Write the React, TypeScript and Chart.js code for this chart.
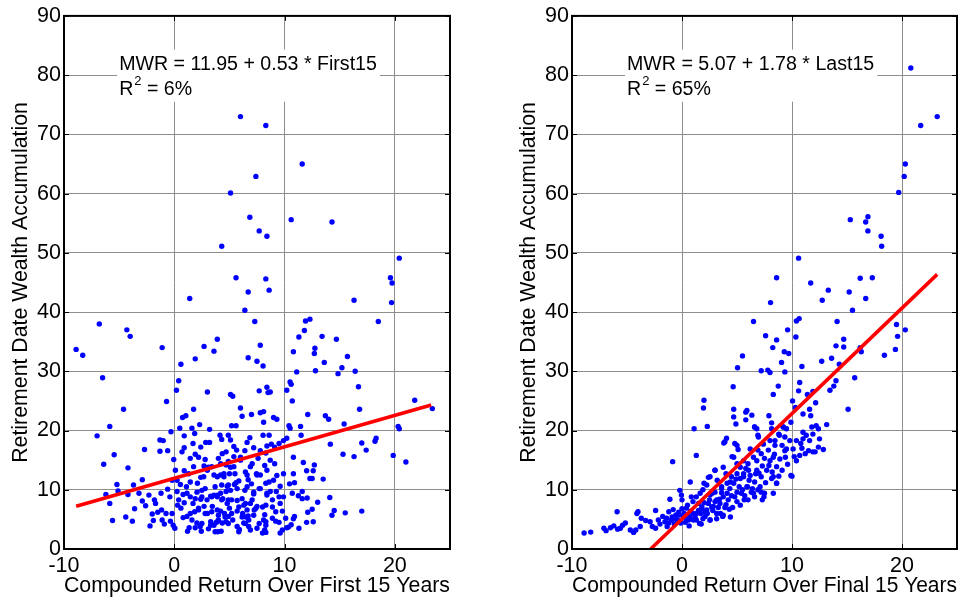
import React, { useEffect, useRef } from "react";
import { Chart, registerables } from "chart.js";

Chart.register(...registerables);

const FONT = '"Liberation Sans", Arial, sans-serif';

const xTicks = [-10, 0, 10, 20];
const yTicks = [0, 10, 20, 30, 40, 50, 60, 70, 80, 90];

const firstTitle = "Compounded Return Over First 15 Years";
const lastTitle = "Compounded Return Over Final 15 Years";
const yTitle = "Retirement Date Wealth Accumulation";

const firstEquation = "MWR = 11.95 + 0.53 * First15";
const lastEquation = "MWR = 5.07 + 1.78 * Last15";
const firstR2 = "6%";
const lastR2 = "65%";

const firstFit = [11.95, 0.53];
const lastFit = [5.07, 1.78];
const firstFitRange = [-8.9, 23.3];
const lastFitRange = [-2.85, 23.2];

const firstPoints: [number, number][] = [
  [6.0, 73.0], [8.3, 71.5], [11.6, 65.0], [7.4, 62.9], [5.1, 60.1], [6.85, 56.0], [10.6, 55.6], [14.3, 55.2],
  [7.7, 53.7], [8.4, 52.8], [4.3, 51.1], [20.4, 49.1], [5.6, 45.8], [19.6, 45.8], [8.3, 45.6], [19.75, 44.9],
  [6.7, 43.4], [8.6, 43.7], [1.4, 42.3], [16.3, 42.0], [19.7, 41.6],
  [-8.9, 33.7], [-8.3, 32.7], [-6.8, 38.0], [-4.3, 37.0], [-4.0, 35.9], [-6.5, 28.9], [-1.1, 34.0], [-0.7, 24.9],
  [-7.0, 19.1], [-5.85, 20.7], [-6.4, 14.3], [-5.45, 15.9], [-4.6, 23.6], [-4.2, 13.7], [-2.7, 16.8], [-6.2, 9.2],
  [-5.85, 7.7], [-5.6, 4.8], [-5.2, 10.9], [-5.1, 9.8], [-4.4, 5.4], [-4.2, 9.2], [-3.8, 4.7], [-3.7, 10.8],
  [-3.6, 6.8], [-3.2, 9.4], [-2.9, 11.7], [-2.9, 8.1], [-2.2, 3.9], [-2.3, 9.1], [-2.0, 5.9], [-1.8, 8.3],
  [-1.9, 4.8], [-1.7, 7.7], [-1.3, 16.5], [-1.3, 18.4], [-1.0, 18.3], [-1.2, 9.4], [-1.15, 6.6], [-1.1, 4.9],
  [-0.9, 4.2], [-0.75, 6.0], [-0.6, 10.1], [-0.6, 16.6], [-0.35, 4.7], [-0.3, 19.8], [-0.2, 6.0], [-0.05, 15.1],
  [-0.1, 4.0], [0.05, 3.5], [0.2, 26.8], [0.4, 28.4], [0.6, 31.2], [0.5, 20.4], [0.7, 16.4], [0.75, 22.2],
  [1.05, 22.5], [0.9, 17.1], [0.9, 19.1], [0.9, 13.2], [1.9, 32.1], [1.75, 23.6], [1.6, 20.4], [1.7, 17.8],
  [1.85, 19.5], [2.3, 21.0], [2.7, 34.2], [3.0, 26.5], [3.6, 33.4], [3.9, 35.4], [3.2, 20.2], [2.85, 18.0],
  [3.2, 18.0], [4.15, 19.2], [4.3, 18.5], [4.9, 19.2], [5.1, 26.1], [5.3, 25.8], [6.0, 23.8], [6.15, 22.4],
  [6.4, 40.3], [6.7, 32.3], [7.3, 38.4], [7.5, 31.7], [7.8, 34.4], [8.05, 30.9], [7.7, 26.7], [7.0, 22.7],
  [7.8, 23.0], [8.1, 23.2], [8.4, 27.3], [8.7, 26.5], [8.5, 26.4], [9.0, 22.2], [9.3, 21.9], [10.2, 26.8],
  [10.5, 28.2], [10.6, 27.8], [10.7, 25.0], [10.8, 33.3], [11.1, 29.9], [11.3, 35.8], [11.8, 36.9], [11.9, 38.5],
  [12.3, 38.8], [12.7, 33.0], [12.75, 33.9], [12.8, 30.1], [13.4, 35.9], [13.6, 31.5], [13.7, 22.5], [14.0, 21.9],
  [14.15, 17.7], [14.7, 35.4], [14.85, 29.6], [15.2, 30.6], [15.7, 32.5], [15.4, 21.1], [15.3, 16.0], [16.4, 30.0],
  [16.3, 15.6], [16.7, 27.4], [16.8, 23.6], [17.0, 17.9], [17.4, 16.7], [18.2, 18.2], [18.3, 18.7], [18.5, 38.4],
  [19.85, 15.8], [20.3, 20.7], [20.4, 20.3], [21.0, 14.7], [21.8, 25.1], [23.4, 23.7],
  [11.45, 20.7], [11.5, 19.2], [12.1, 22.7], [10.4, 20.8], [10.5, 20.4], [11.7, 14.6], [12.0, 13.2], [12.7, 14.2],
  [12.6, 13.2], [12.3, 11.9], [12.5, 11.9], [13.5, 11.8], [10.8, 15.5], [10.8, 12.7], [10.9, 11.2], [10.45, 11.0],
  [9.9, 12.7], [10.7, 9.4], [11.6, 9.7], [11.25, 9.0], [11.6, 8.5], [12.05, 8.6], [13.0, 7.9], [14.1, 8.7],
  [14.5, 6.5], [14.3, 5.7], [15.5, 6.1], [17.0, 6.4], [12.5, 6.7], [12.1, 6.2], [12.6, 4.6], [12.0, 4.5],
  [10.9, 5.5], [10.8, 5.1], [10.6, 4.1], [10.2, 3.6], [10.35, 3.7], [11.3, 3.5], [10.1, 5.2], [9.6, 2.7],
  [9.5, 4.5], [9.2, 4.7], [9.8, 6.4], [9.9, 8.8], [9.5, 8.8], [9.6, 7.7], [9.25, 9.7], [8.9, 8.3],
  [9.0, 11.6], [9.3, 12.4], [9.1, 14.4], [8.7, 15.0], [8.2, 14.1], [8.3, 11.1], [8.6, 11.3], [8.7, 9.7],
  [8.4, 9.4], [8.3, 7.4], [8.2, 5.8], [8.3, 4.6], [8.2, 3.2], [8.3, 2.8], [8.0, 2.7], [7.5, 7.2],
  [7.25, 6.6], [7.2, 9.3], [7.7, 10.2], [7.8, 12.5], [7.45, 12.7], [7.6, 15.3], [7.8, 16.6], [8.3, 16.2],
  [8.4, 17.4], [8.8, 17.7], [9.1, 17.2], [9.5, 17.8], [9.9, 18.3], [10.2, 18.7], [8.6, 19.2], [8.05, 19.2],
  [8.1, 21.4], [6.9, 13.9], [6.6, 12.5], [6.7, 11.7], [6.4, 9.9], [6.15, 8.5], [6.9, 7.7], [6.6, 6.6],
  [6.7, 5.6], [6.5, 5.4], [6.3, 4.4], [6.9, 3.2], [5.9, 3.3], [6.2, 6.0], [5.7, 6.4], [5.7, 8.2],
  [5.45, 10.9], [5.6, 11.2], [5.85, 11.5], [5.4, 13.9], [5.4, 15.6], [6.0, 15.5], [6.4, 16.6], [6.6, 18.0],
  [6.85, 18.8], [7.2, 17.1], [5.65, 16.7], [5.4, 17.3], [5.1, 18.4], [5.6, 20.8], [5.2, 20.8], [4.7, 16.4],
  [4.35, 16.1], [4.0, 15.3], [4.7, 14.2], [4.9, 14.8], [5.0, 12.7], [4.5, 12.7], [4.2, 12.5], [3.9, 12.2],
  [4.3, 10.8], [4.8, 10.6], [5.1, 9.9], [4.7, 9.7], [4.2, 9.4], [4.9, 8.3], [4.4, 8.5], [3.9, 8.8],
  [3.6, 9.1], [3.3, 8.9], [3.45, 7.2], [3.9, 6.6], [4.2, 6.4], [4.55, 6.0], [4.9, 5.5], [4.7, 4.6],
  [4.35, 4.4], [4.0, 4.9], [3.8, 4.5], [3.6, 4.0], [3.95, 2.9], [4.25, 3.0], [3.3, 4.6], [3.0, 6.0],
  [2.7, 7.2], [2.4, 8.4], [2.5, 9.9], [2.1, 11.1], [2.4, 12.1], [3.0, 13.3], [3.4, 13.9], [2.7, 14.0],
  [2.8, 15.1], [2.2, 15.5], [2.4, 17.2], [1.9, 16.0], [1.45, 15.3], [1.75, 13.9], [1.3, 12.7], [1.45, 11.3],
  [1.1, 10.5], [1.15, 9.4], [1.45, 8.8], [1.9, 8.5], [1.7, 7.7], [2.2, 6.9], [1.85, 6.3], [1.45, 6.0],
  [1.15, 5.5], [1.6, 4.9], [2.05, 4.4], [2.35, 3.8], [2.45, 3.0], [1.9, 3.6], [1.35, 3.6], [0.8, 5.3],
  [0.6, 6.9], [0.4, 8.3], [0.25, 9.7], [0.55, 10.9], [0.25, 11.6], [-0.2, 11.6], [0.1, 13.3],
  [2.06, 9.6], [2.5, 8.8], [2.97, 8.3], [3.4, 8.8], [3.9, 9.1], [4.3, 8.3], [4.8, 7.7], [5.2, 8.3],
  [5.85, 7.1], [6.45, 7.7], [7.06, 8.3], [7.4, 6.9], [8.0, 7.1], [2.2, 6.6], [2.8, 6.0], [3.4, 6.3],
  [4.0, 5.7], [4.6, 5.4], [5.2, 6.0], [6.15, 5.4], [6.75, 4.9], [7.2, 5.7], [8.1, 4.9], [2.5, 4.3],
  [3.3, 4.0], [3.9, 4.6], [4.9, 4.3], [5.7, 3.8], [6.45, 4.3], [7.5, 3.5], [8.3, 4.0], [3.7, 2.9],
  [5.85, 2.9], [6.75, 3.8], [2.8, 10.2], [3.7, 10.5], [4.9, 10.8], [5.7, 10.2], [6.6, 10.5], [7.2, 9.6],
  [7.8, 10.2], [8.4, 9.1], [8.9, 7.1], [9.2, 6.3], [2.67, 12.2], [3.6, 12.5], [4.5, 12.2], [5.5, 12.7],
  [6.45, 13.0], [7.5, 12.5], [8.4, 13.3], [3.1, 13.8], [4.2, 14.4], [5.1, 13.8], [6.0, 15.0], [7.06, 14.4],
  [0.3, 7.4], [-0.4, 8.8], [0.9, 7.8], [1.2, 3.0], [-1.5, 6.2], [-2.6, 7.3], [8.9, 5.2], [9.8, 3.2],
  [7.7, 4.3], [5.3, 4.9], [6.3, 7.4], [3.1, 3.4], [0.8, 9.2], [9.6, 10.6], [7.0, 11.0], [5.0, 6.9],
];

const lastPoints: [number, number][] = [
  [20.8, 81.2], [21.7, 71.5], [23.2, 73.0], [20.3, 65.0], [20.2, 62.9], [19.7, 60.2], [15.3, 55.6], [16.9, 56.1],
  [16.7, 55.2], [16.9, 53.7], [18.1, 52.8], [18.15, 51.1], [10.6, 49.1], [8.6, 45.8], [16.2, 45.7], [17.3, 45.8],
  [11.7, 44.9], [13.3, 43.7], [15.2, 43.4], [12.75, 42.0], [16.7, 42.3],
  [-8.9, 2.7], [-8.3, 2.85], [-7.1, 3.5], [-6.9, 3.1], [-6.5, 3.6], [-6.2, 3.9], [-5.9, 6.3], [-5.85, 3.35],
  [-5.6, 3.5], [-5.4, 4.0], [-5.15, 4.4], [-4.7, 3.2], [-4.4, 2.8], [-4.2, 3.2], [-4.1, 6.0], [-4.0, 6.3],
  [-3.8, 3.8], [-3.7, 5.2], [-3.3, 4.8], [-2.9, 4.6], [-2.7, 3.8], [-2.4, 6.5], [-2.4, 3.5], [-2.15, 4.9],
  [-2.0, 4.2], [-1.75, 5.5], [-1.55, 4.6], [-1.4, 5.2], [-1.35, 3.8], [-1.2, 4.4], [-1.1, 8.4], [-1.2, 6.3],
  [-0.95, 4.9], [-0.85, 14.75], [-0.8, 6.65], [-0.7, 4.2], [-0.55, 5.75], [-0.4, 4.9], [-0.25, 5.75], [-0.2, 9.9],
  [-0.05, 9.1], [0.0, 8.3], [0.2, 6.0], [0.35, 5.2], [0.4, 6.9], [0.6, 4.9], [0.65, 3.9], [0.75, 11.3],
  [0.85, 8.8], [1.0, 6.0], [1.1, 20.3], [1.3, 15.8], [1.3, 4.9], [1.5, 7.7], [1.65, 9.4], [1.7, 6.0],
  [1.75, 4.2], [1.95, 23.8], [2.0, 25.1], [2.0, 11.1], [2.25, 6.6], [2.3, 20.7], [2.4, 12.1], [2.5, 8.3],
  [2.55, 4.9], [2.75, 9.4], [2.85, 7.2], [3.0, 13.3], [3.15, 6.0], [3.2, 11.6], [3.4, 8.4], [3.6, 10.5],
  [3.7, 5.5], [3.8, 17.9], [4.05, 18.7], [4.0, 12.7], [4.1, 9.4], [4.3, 6.7], [4.4, 11.3], [4.55, 15.6],
  [4.65, 27.4], [4.7, 23.6], [4.8, 17.8], [4.9, 21.1], [5.0, 14.4], [5.05, 30.6], [5.1, 16.8], [5.2, 10.5],
  [5.3, 7.4], [5.5, 32.6], [5.6, 12.2], [5.65, 8.3], [5.8, 23.1], [5.8, 21.8], [5.95, 10.5], [6.05, 13.3],
  [6.2, 16.9], [6.35, 22.6], [6.5, 38.4], [6.5, 9.4], [6.6, 20.6], [6.7, 12.7], [6.8, 20.3], [6.9, 19.2],
  [6.95, 18.9], [7.2, 30.1], [7.3, 8.3], [7.45, 8.8], [7.6, 36.0], [7.8, 30.2], [7.9, 14.1], [7.9, 22.5],
  [8.0, 29.8], [8.05, 41.6], [8.15, 21.3], [8.25, 34.0], [8.3, 26.1], [8.3, 12.2], [8.3, 9.4], [8.45, 17.5],
  [8.6, 35.3], [8.6, 11.1], [8.75, 27.5], [8.85, 19.2], [9.05, 31.5], [9.2, 20.6], [9.3, 33.3], [9.35, 29.9],
  [9.35, 16.6], [9.5, 20.3], [9.6, 37.0], [9.7, 33.0], [9.9, 21.4], [10.0, 12.3], [10.05, 25.0], [10.3, 23.9],
  [10.35, 35.8], [10.4, 38.5], [10.6, 26.7], [10.65, 38.9], [10.7, 28.1], [10.8, 17.8], [10.9, 30.8], [11.0, 19.7],
  [11.0, 22.8], [11.2, 16.1], [11.3, 19.2], [11.4, 26.1], [11.6, 23.6], [11.7, 22.5], [11.8, 20.6], [11.9, 26.6],
  [11.9, 16.4], [12.15, 24.7], [12.2, 20.8], [12.4, 17.2], [12.5, 18.6], [12.7, 31.7], [12.85, 16.8], [13.15, 21.0],
  [13.45, 26.8], [13.6, 32.2], [13.8, 27.5], [14.0, 34.3], [14.0, 28.4], [14.1, 38.4], [14.3, 31.2], [14.7, 35.4],
  [14.7, 34.1], [15.1, 23.6], [15.5, 40.3], [15.7, 28.9], [16.2, 34.0], [16.3, 33.3], [18.4, 32.7], [19.4, 33.7],
  [19.5, 37.9], [19.6, 35.9], [20.3, 37.0],
  [1.9, 10.0], [2.55, 9.1], [3.15, 8.3], [3.75, 8.8], [4.35, 10.2], [4.7, 11.1], [5.0, 9.6], [5.3, 11.9],
  [5.6, 12.7], [5.9, 10.5], [6.2, 12.4], [6.3, 9.6], [6.6, 11.3], [6.8, 13.3], [7.1, 10.5], [7.2, 12.2],
  [7.5, 9.4], [7.7, 13.3], [8.0, 14.9], [8.15, 11.9], [8.3, 15.5], [8.6, 13.9], [8.9, 15.2], [9.1, 17.5],
  [9.4, 15.5], [9.5, 16.9], [9.9, 12.4], [10.1, 16.9], [10.4, 18.3], [10.4, 14.9], [10.7, 15.8], [11.0, 18.6],
  [11.5, 16.6], [11.6, 18.3], [11.9, 19.4], [12.1, 16.4], [12.4, 20.3], [6.8, 14.9], [7.2, 16.1], [7.5, 15.3],
  [7.85, 16.7], [8.45, 18.3], [8.8, 19.4], [9.2, 20.6], [8.0, 18.3], [8.15, 20.3], [7.4, 17.7], [6.9, 16.7],
  [6.5, 15.5], [6.0, 14.4], [5.6, 14.9], [5.3, 13.8], [5.0, 12.7], [4.5, 12.2], [4.1, 11.1], [3.6, 10.2],
  [3.0, 9.6], [2.4, 7.7], [1.8, 7.1], [1.3, 6.0], [2.1, 6.3], [2.7, 7.1], [3.45, 7.7], [4.2, 8.3],
  [4.8, 8.8], [5.4, 9.4], [6.0, 8.3], [6.6, 8.8], [7.2, 9.6], [8.6, 11.1], [9.1, 13.3], [4.4, 5.4],
  [3.75, 5.7], [3.15, 5.1], [2.55, 4.9], [1.9, 5.1], [1.03, 4.9], [1.6, 4.3], [0.73, 5.4], [1.3, 8.8],
  [2.25, 10.8], [2.55, 12.2], [3.0, 13.3], [3.75, 13.8], [3.9, 18.1], [4.7, 15.5], [5.0, 17.5], [4.7, 22.3],
  [5.9, 23.4], [6.6, 20.6], [9.8, 18.3], [9.35, 18.9],
  [-0.5, 5.0], [0.1, 5.6], [0.3, 4.5], [0.5, 5.8], [0.8, 6.4], [-0.9, 5.4], [1.2, 5.3], [1.5, 6.5],
  [0.0, 6.8], [-0.3, 6.2], [1.8, 6.8], [2.0, 7.8], [2.3, 6.0], [2.8, 6.5], [3.3, 7.0], [3.5, 6.0],
  [4.0, 7.5], [4.6, 7.0], [5.0, 8.0],
  [3.0, 8.0], [3.9, 7.0], [4.5, 9.0], [5.5, 10.0], [6.1, 11.6], [6.9, 10.0], [7.6, 11.2], [8.2, 13.0],
  [8.8, 12.3], [9.6, 14.3], [10.2, 15.6], [10.9, 17.0], [5.7, 9.0], [6.4, 10.2], [7.0, 12.8], [8.4, 16.0],
  [2.1, 5.5], [0.5, 7.4], [-0.1, 4.4], [1.0, 8.0], [3.6, 9.5], [4.9, 11.8], [5.8, 13.6], [7.3, 14.0],
];

function makeChart(
  canvas: HTMLCanvasElement,
  points: [number, number][],
  fit: number[],
  fitRange: number[],
  xTitle: string,
  equation: string,
  r2: string,
  yAxisWidth: number,
  yTitlePad: number,
  rightPad: number
) {
  const fitData = fitRange.map((x) => ({ x, y: fit[0] + fit[1] * x }));
  const framePlugin = {
    id: "frame",
    beforeDatasetsDraw(chart: any) {
      const { ctx, scales } = chart;
      const xs = scales.x;
      const ys = scales.y;
      ctx.save();
      ctx.font = `19.6px ${FONT}`;
      const w = ctx.measureText(equation).width;
      const tx = xs.getPixelForValue(-5.0);
      const top = ys.getPixelForValue(84.3);
      ctx.fillStyle = "#ffffff";
      ctx.fillRect(tx - 2, top, w + 5, 52);
      ctx.fillStyle = "#000000";
      ctx.textAlign = "left";
      ctx.textBaseline = "alphabetic";
      ctx.fillText(equation, tx, top + 20.5);
      ctx.fillText("R", tx, top + 45);
      const rw = ctx.measureText("R").width;
      ctx.font = `13px ${FONT}`;
      ctx.fillText("2", tx + rw + 1, top + 35.3);
      const sw = ctx.measureText("2").width;
      ctx.font = `19.6px ${FONT}`;
      ctx.fillText(" = " + r2, tx + rw + 1 + sw, top + 45);
      ctx.restore();
    },
    afterDatasetsDraw(chart: any) {
      const { ctx, chartArea, scales } = chart;
      const { left, right, top, bottom } = chartArea;
      ctx.save();
      ctx.strokeStyle = "#000000";
      ctx.lineWidth = 1;
      ctx.beginPath();
      for (const v of xTicks) {
        const p = Math.round(scales.x.getPixelForValue(v)) + 0.5;
        ctx.moveTo(p, bottom);
        ctx.lineTo(p, bottom - 5);
        ctx.moveTo(p, top);
        ctx.lineTo(p, top + 5);
      }
      for (const v of yTicks) {
        const p = Math.round(scales.y.getPixelForValue(v)) + 0.5;
        ctx.moveTo(left, p);
        ctx.lineTo(left + 5, p);
        ctx.moveTo(right, p);
        ctx.lineTo(right - 5, p);
      }
      ctx.stroke();
      ctx.lineWidth = 2;
      ctx.strokeRect(left, top, right - left, bottom - top);
      ctx.restore();
    },
  };

  return new Chart(canvas, {
    type: "scatter",
    data: {
      datasets: [
        {
          type: "line",
          data: fitData,
          borderColor: "#ff0000",
          borderWidth: 3.6,
          pointRadius: 0,
          fill: false,
          order: 0,
        } as any,
        {
          data: points.map(([x, y]) => ({ x, y })),
          backgroundColor: "#0000ff",
          borderWidth: 0,
          pointRadius: 2.7,
          order: 1,
        },
      ],
    },
    options: {
      responsive: false,
      animation: false,
      devicePixelRatio: 1,
      layout: { padding: { top: 14, right: rightPad, left: 0, bottom: 0 } },
      plugins: { legend: { display: false }, tooltip: { enabled: false } },
      scales: {
        x: {
          type: "linear",
          min: -10,
          max: 25,
          afterFit: (s: any) => {
            s.height = 52;
          },
          ticks: {
            stepSize: 10,
            includeBounds: false,
            color: "#000",
            padding: 4,
            maxRotation: 0,
            font: { family: FONT, size: 21.5 },
          },
          grid: { color: "#8e8e8e", lineWidth: 1, drawTicks: false },
          border: { display: false },
          title: {
            display: true,
            text: xTitle,
            color: "#000",
            font: { family: FONT, size: 21.8 },
            padding: { top: 0, bottom: 2.2 },
          },
        },
        y: {
          type: "linear",
          min: 0,
          max: 90,
          afterFit: (s: any) => {
            s.width = yAxisWidth;
          },
          ticks: {
            stepSize: 10,
            color: "#000",
            padding: 3,
            font: { family: FONT, size: 21.5 },
          },
          grid: { color: "#8e8e8e", lineWidth: 1, drawTicks: false },
          border: { display: false },
          title: {
            display: true,
            text: yTitle,
            color: "#000",
            font: { family: FONT, size: 21.3 },
            padding: { top: yTitlePad, bottom: 0 },
          },
        },
      },
    },
    plugins: [framePlugin],
  } as any);
}

export default function App() {
  const leftRef = useRef<HTMLCanvasElement>(null);
  const rightRef = useRef<HTMLCanvasElement>(null);

  useEffect(() => {
    const c1 = makeChart(leftRef.current!, firstPoints, firstFit, firstFitRange, firstTitle, firstEquation, firstR2, 64, 8, 33);
    const c2 = makeChart(rightRef.current!, lastPoints, lastFit, lastFitRange, lastTitle, lastEquation, lastR2, 89, 33, 9);
    return () => {
      c1.destroy();
      c2.destroy();
    };
  }, []);

  return (
    <div style={{ position: "absolute", left: 0, top: 0, width: 966, height: 601, background: "#fff" }}>
      <canvas ref={leftRef} width={483} height={601} style={{ position: "absolute", left: 0, top: 0 }} />
      <canvas ref={rightRef} width={483} height={601} style={{ position: "absolute", left: 483, top: 0 }} />
    </div>
  );
}
